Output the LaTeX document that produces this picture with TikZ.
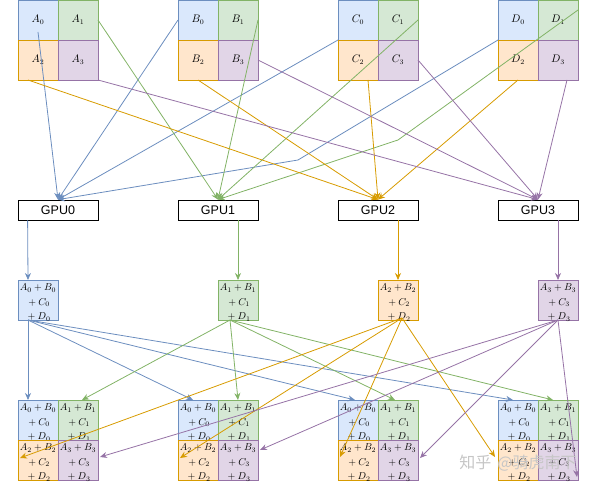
\documentclass[tikz,border=0pt]{standalone}
\usepackage{fontspec}
\newfontfamily\cjk{Noto Sans CJK SC}
\newfontfamily\arialf{Liberation Sans}
\usetikzlibrary{calc,arrows.meta}
\definecolor{bline}{HTML}{6C8EBF}
\definecolor{gline}{HTML}{82B366}
\definecolor{oline}{HTML}{D79B00}
\definecolor{pline}{HTML}{9673A6}
\definecolor{bfill}{HTML}{DAE8FC}
\definecolor{gfill}{HTML}{D5E8D4}
\definecolor{ofill}{HTML}{FFE6CC}
\definecolor{pfill}{HTML}{E1D5E7}
\newcommand\celltxt[3]{\raisebox{-5pt}[18pt][18pt]{\begin{tabular}{@{}c@{}}$#1$\\${}+#2$\\${}+#3$\end{tabular}}}
\tikzset{
  cell/.style={draw, minimum width=40pt, minimum height=40pt, inner sep=0pt, outer sep=0pt, line width=0.8pt},
  topcell/.style={cell, font=\fontsize{10.5}{12}\selectfont},
  sumcell/.style={cell, font=\fontsize{10}{14.5}\selectfont},
  cb/.style={draw=bline, fill=bfill},
  cg/.style={draw=gline, fill=gfill},
  co/.style={draw=oline, fill=ofill},
  cp/.style={draw=pline, fill=pfill},
  gpu/.style={draw, fill=white, line width=0.8pt, minimum width=80pt, minimum height=20pt, inner sep=0pt, font=\arialf\fontsize{12.5}{14}\selectfont},
  arr/.style={-{Stealth[length=7pt,width=6pt]}, line width=0.8pt},
  ab/.style={arr, draw=bline},
  ag/.style={arr, draw=gline},
  ao/.style={arr, draw=oline},
  ap/.style={arr, draw=pline},
  wm/.style={font=\cjk\fontsize{16}{18}\selectfont, text=gray!45, inner sep=0pt}
}
\begin{document}
\begin{tikzpicture}[x=1pt,y=-1pt]
\useasboundingbox (0,0) rectangle (597,489);
% top matrices
\foreach \L [count=\i from 0] in {A,B,C,D} {
  \pgfmathsetmacro\X{18+160*\i}
  \node[topcell,cb] (t\L0) at (\X+20,20) {$\L_0$};
  \node[topcell,cg] (t\L1) at (\X+60,20) {$\L_1$};
  \node[topcell,co] (t\L2) at (\X+20,60) {$\L_2$};
  \node[topcell,cp] (t\L3) at (\X+60,60) {$\L_3$};
}
% GPUs
\foreach \i in {0,...,3} {
  \node[gpu] (g\i) at (58+160*\i,210) {GPU\i};
}
% reduced blocks
\node[sumcell,cb] (m0) at (38,300) {\celltxt{A_0+B_0}{C_0}{D_0}};
\node[sumcell,cg] (m1) at (238,300) {\celltxt{A_1+B_1}{C_1}{D_1}};
\node[sumcell,co] (m2) at (398,300) {\celltxt{A_2+B_2}{C_2}{D_2}};
\node[sumcell,cp] (m3) at (558,300) {\celltxt{A_3+B_3}{C_3}{D_3}};
% bottom grids
\foreach \i in {0,...,3} {
  \pgfmathsetmacro\X{18+160*\i}
  \node[sumcell,cb] (b\i0) at (\X+20,420) {\celltxt{A_0+B_0}{C_0}{D_0}};
  \node[sumcell,cg] (b\i1) at (\X+60,420) {\celltxt{A_1+B_1}{C_1}{D_1}};
  \node[sumcell,co] (b\i2) at (\X+20,460) {\celltxt{A_2+B_2}{C_2}{D_2}};
  \node[sumcell,cp] (b\i3) at (\X+60,460) {\celltxt{A_3+B_3}{C_3}{D_3}};
}
\coordinate (kD0) at (298,160);
\coordinate (kD1) at (398,140);
% scatter to GPUs
\draw[ab] ($(tA0.center)+(0,12)$) -- (g0.north);
\draw[ab] (tB0.west) -- (g0.north);
\draw[ab] (tC0.south west) -- (g0.north);
\draw[ab] (tD0.south west) -- (kD0) -- (g0.north);
\draw[ag] (tA1.east) -- (g1.north);
\draw[ag] (tB1.east) -- (g1.north);
\draw[ag] (tC1.east) -- (g1.north);
\draw[ag] ($(tD1.north east)+(0,10)$) -- (kD1) -- (g1.north);
\draw[ao] ($(tA2.south)+(-10,0)$) -- (g2.north);
\draw[ao] (tB2.south) -- (g2.north);
\draw[ao] ($(tC2.south)+(10,0)$) -- (g2.north);
\draw[ao] (tD2.south) -- (g2.north);
\draw[ap] (tA3.south east) -- (g3.north);
\draw[ap] (tB3.east) -- (g3.north);
\draw[ap] (tC3.east) -- (g3.north);
\draw[ap] ($(tD3.south)+(9,0)$) -- (g3.north);
% GPU to reduced
\draw[ab] ($(g0.south west)+(10,0)$) -- ($(m0.north)+(-10,0)$);
\draw[ag] ($(g1.south)+(20,0)$) -- (m1.north);
\draw[ao] ($(g2.south)+(20,0)$) -- (m2.north);
\draw[ap] ($(g3.south)+(20,0)$) -- (m3.north);
% gather
\draw[ab] ($(m0.south)+(-10,0)$) -- ($(b00.north)+(-10,0)$);
\draw[ab] ($(m0.south)+(-10,0)$) -- ($(b10.north)+(-5,0)$);
\draw[ab] ($(m0.south)+(-10,0)$) -- ($(b20.north)+(-3,0)$);
\draw[ab] ($(m0.south)+(-10,0)$) -- ($(b30.north)+(-5,0)$);
\draw[ag] ($(m1.south)+(-8,0)$) -- ($(b01.north)+(4,0)$);
\draw[ag] ($(m1.south)+(-8,0)$) -- (b11.north);
\draw[ag] ($(m1.south)+(-8,0)$) -- ($(b21.north)+(-3,0)$);
\draw[ag] ($(m1.south)+(-8,0)$) -- ($(b31.north)+(-5,0)$);
\draw[ao] ($(m2.south)+(4,-2)$) -- ($(b02.west)+(2,-2)$);
\draw[ao] ($(m2.south)+(4,-2)$) -- ($(b12.west)+(2,-2)$);
\draw[ao] ($(m2.south)+(4,-2)$) -- ($(b22.west)+(2,-3)$);
\draw[ao] ($(m2.south)+(4,-2)$) -- ($(b32.west)+(-3,-3)$);
\draw[ap] (m3.south) -- ($(b03.east)+(2,-3)$);
\draw[ap] (m3.south) -- ($(b13.east)+(2,-10)$);
\draw[ap] (m3.south) -- ($(b23.east)+(2,-2)$);
\draw[ap] (m3.south) -- ($(b33.south east)+(-1,-3)$);
% watermark
\node[wm] (wmark) at (518,463) {知乎\hspace{6pt}@骑虎南下};
\end{tikzpicture}
\end{document}
